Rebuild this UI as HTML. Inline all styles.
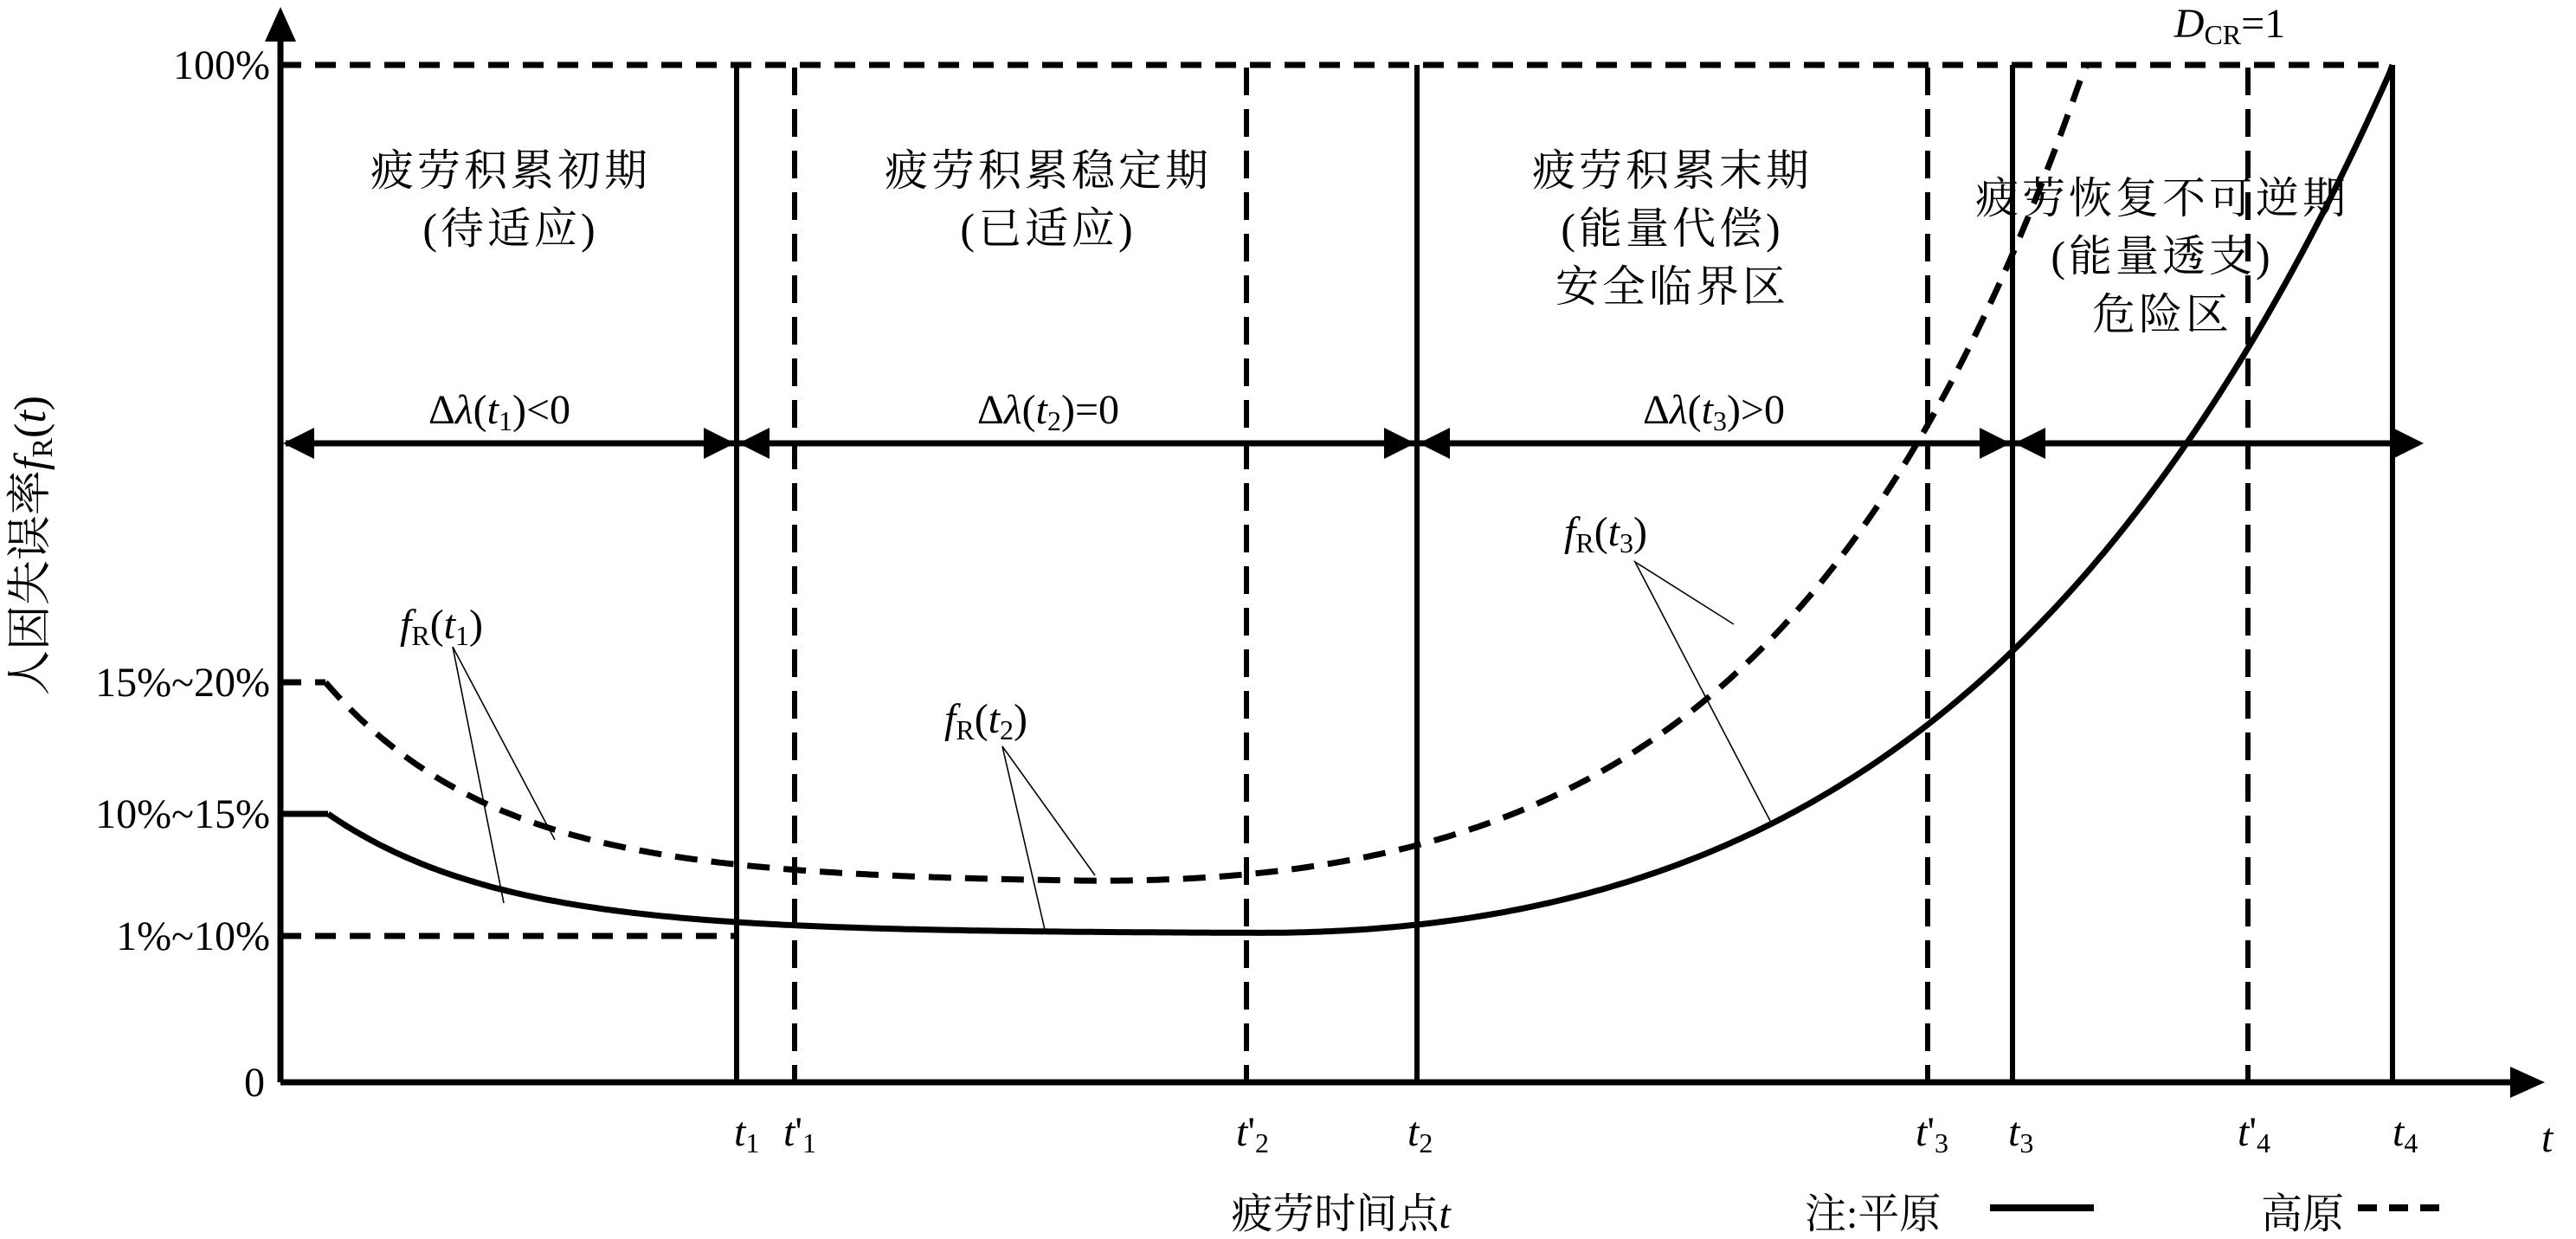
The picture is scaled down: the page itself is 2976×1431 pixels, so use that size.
<!DOCTYPE html>
<html><head><meta charset="utf-8">
<style>
html,body{margin:0;padding:0;background:#fff;}
svg{display:block;}
text{font-family:"Liberation Serif","Noto Serif CJK SC","Noto Sans CJK SC",serif;fill:#000;}
.cn{font-size:50px;letter-spacing:4px;}
.lb{font-size:48px;}
</style></head>
<body>
<svg id="s" width="2976" height="1431" viewBox="0 0 2976 1431" xmlns="http://www.w3.org/2000/svg">
<g stroke="#000" fill="none" stroke-width="7">
<line x1="324" y1="40" x2="324" y2="1250"/>
<line x1="324" y1="1250" x2="2910" y2="1250"/>
<line x1="324" y1="75" x2="2764" y2="75" stroke-dasharray="24,16"/>
<line x1="324" y1="1081" x2="851" y2="1081" stroke-dasharray="24,16"/>
<line x1="324" y1="788" x2="376" y2="788" stroke-dasharray="24,16"/>
<line x1="324" y1="940" x2="379" y2="940"/>
<line x1="851" y1="75" x2="851" y2="1250" stroke-width="6"/>
<line x1="1637" y1="75" x2="1637" y2="1250" stroke-width="6"/>
<line x1="2325" y1="75" x2="2325" y2="1250" stroke-width="6"/>
<line x1="2764" y1="75" x2="2764" y2="1250" stroke-width="6"/>
<g stroke-dasharray="32,16" stroke-width="6">
<line x1="918" y1="78" x2="918" y2="1250"/>
<line x1="1440" y1="78" x2="1440" y2="1250"/>
<line x1="2227" y1="78" x2="2227" y2="1250"/>
<line x1="2597" y1="78" x2="2597" y2="1250"/>
</g>
<line x1="330" y1="512" x2="2780" y2="512"/>
<path id="curS" d=""/>
<path id="curD" d="" stroke-dasharray="26,16"/>
<line x1="2299" y1="1395" x2="2419" y2="1395" stroke-width="8"/>
<line x1="2724" y1="1395" x2="2820" y2="1395" stroke-width="8" stroke-dasharray="22,14"/>
<g stroke-width="1.6">
<polyline points="582,1043 523,747 641,970"/>
<polyline points="1208,1078 1158,862 1265,1011"/>
<polyline points="2045,948 1889,649 2003,721"/>
</g>
</g>
<g fill="#000" stroke="none">
<polygon points="324,8 306,48 342,48"/>
<polygon points="2940,1250 2900,1232 2900,1268"/>
<polygon points="327,512 363,494 363,530"/>
<polygon points="849,512 813,494 813,530"/>
<polygon points="853,512 889,494 889,530"/>
<polygon points="1635,512 1599,494 1599,530"/>
<polygon points="1639,512 1675,494 1675,530"/>
<polygon points="2323,512 2287,494 2287,530"/>
<polygon points="2327,512 2363,494 2363,530"/>
<polygon points="2800,512 2764,494 2764,530"/>
</g>
<g class="lb" text-anchor="end">
<text x="312" y="91">100%</text>
<text x="312" y="804">15%~20%</text>
<text x="312" y="956">10%~15%</text>
<text x="312" y="1097">1%~10%</text>
<text x="306" y="1266">0</text>
</g>
<text font-size="52" transform="translate(52,630) rotate(-90)" text-anchor="middle">人因失误率<tspan font-style="italic">f</tspan><tspan font-size="34" dy="8">R</tspan><tspan dy="-8">(</tspan><tspan font-style="italic">t</tspan>)</text>
<g class="cn" text-anchor="middle">
<text x="590" y="214">疲劳积累初期</text>
<text x="590" y="281">(待适应)</text>
<text x="1211" y="214">疲劳积累稳定期</text>
<text x="1211" y="281">(已适应)</text>
<text x="1932" y="214">疲劳积累末期</text>
<text x="1932" y="281">(能量代偿)</text>
<text x="1932" y="348">安全临界区</text>
<text x="2498" y="246">疲劳恢复不可逆期</text>
<text x="2498" y="313">(能量透支)</text>
<text x="2498" y="380">危险区</text>
</g>
<g class="lb" text-anchor="middle">
<text x="577" y="489">Δ<tspan font-style="italic">λ</tspan>(<tspan font-style="italic">t</tspan><tspan font-size="32" dy="8">1</tspan><tspan dy="-8">)&lt;0</tspan></text>
<text x="1211" y="489">Δ<tspan font-style="italic">λ</tspan>(<tspan font-style="italic">t</tspan><tspan font-size="32" dy="8">2</tspan><tspan dy="-8">)=0</tspan></text>
<text x="1980" y="489">Δ<tspan font-style="italic">λ</tspan>(<tspan font-style="italic">t</tspan><tspan font-size="32" dy="8">3</tspan><tspan dy="-8">)&gt;0</tspan></text>
<text x="2576" y="43"><tspan font-style="italic">D</tspan><tspan font-size="32" dy="8">CR</tspan><tspan dy="-8">=1</tspan></text>
<text x="510" y="737"><tspan font-style="italic">f</tspan><tspan font-size="32" dy="8">R</tspan><tspan dy="-8">(</tspan><tspan font-style="italic">t</tspan><tspan font-size="32" dy="8">1</tspan><tspan dy="-8">)</tspan></text>
<text x="1139" y="846"><tspan font-style="italic">f</tspan><tspan font-size="32" dy="8">R</tspan><tspan dy="-8">(</tspan><tspan font-style="italic">t</tspan><tspan font-size="32" dy="8">2</tspan><tspan dy="-8">)</tspan></text>
<text x="1855" y="630"><tspan font-style="italic">f</tspan><tspan font-size="32" dy="8">R</tspan><tspan dy="-8">(</tspan><tspan font-style="italic">t</tspan><tspan font-size="32" dy="8">3</tspan><tspan dy="-8">)</tspan></text>
</g>
<g class="lb">
<text x="848" y="1323"><tspan font-style="italic">t</tspan><tspan font-size="32" dy="8">1</tspan></text>
<text x="905" y="1323"><tspan font-style="italic">t</tspan>'<tspan font-size="32" dy="8">1</tspan></text>
<text x="1428" y="1323"><tspan font-style="italic">t</tspan>'<tspan font-size="32" dy="8">2</tspan></text>
<text x="1626" y="1323"><tspan font-style="italic">t</tspan><tspan font-size="32" dy="8">2</tspan></text>
<text x="2213" y="1323"><tspan font-style="italic">t</tspan>'<tspan font-size="32" dy="8">3</tspan></text>
<text x="2320" y="1323"><tspan font-style="italic">t</tspan><tspan font-size="32" dy="8">3</tspan></text>
<text x="2585" y="1323"><tspan font-style="italic">t</tspan>'<tspan font-size="32" dy="8">4</tspan></text>
<text x="2764" y="1323"><tspan font-style="italic">t</tspan><tspan font-size="32" dy="8">4</tspan></text>
<text x="2936" y="1330" font-style="italic">t</text>
<text x="1549" y="1418" text-anchor="middle">疲劳时间点<tspan font-style="italic">t</tspan></text>
<text x="2085" y="1418">注:平原</text>
<text x="2612" y="1418">高原</text>
</g>
</svg>
<script>
(function(){
  var s="",d="";
  for(var x=379;x<=2764;x+=6){
    var y=1078-138*Math.exp(-(x-379)/200);
    if(x>1450){var u=x-1450,k=0.0016;y-=197*(Math.exp(k*u)-1-k*u);}
    if(y<75){y=75;}
    s+=(s?"L":"M")+x.toFixed(1)+","+y.toFixed(1);
  }
  s+="L2764,75";
  for(var x=376;x<=2420;x+=5){
    var y=1020-232*Math.exp(-(x-376)/200);
    if(x>1240){var u=x-1240,k=0.0026;y-=56*(Math.exp(k*u)-1-k*u);}
    if(y<75){d+="L"+x+",75";break;}
    d+=(d?"L":"M")+x.toFixed(1)+","+y.toFixed(1);
  }
  document.getElementById("curS").setAttribute("d",s);
  document.getElementById("curD").setAttribute("d",d);
})();
</script>
</body></html>
